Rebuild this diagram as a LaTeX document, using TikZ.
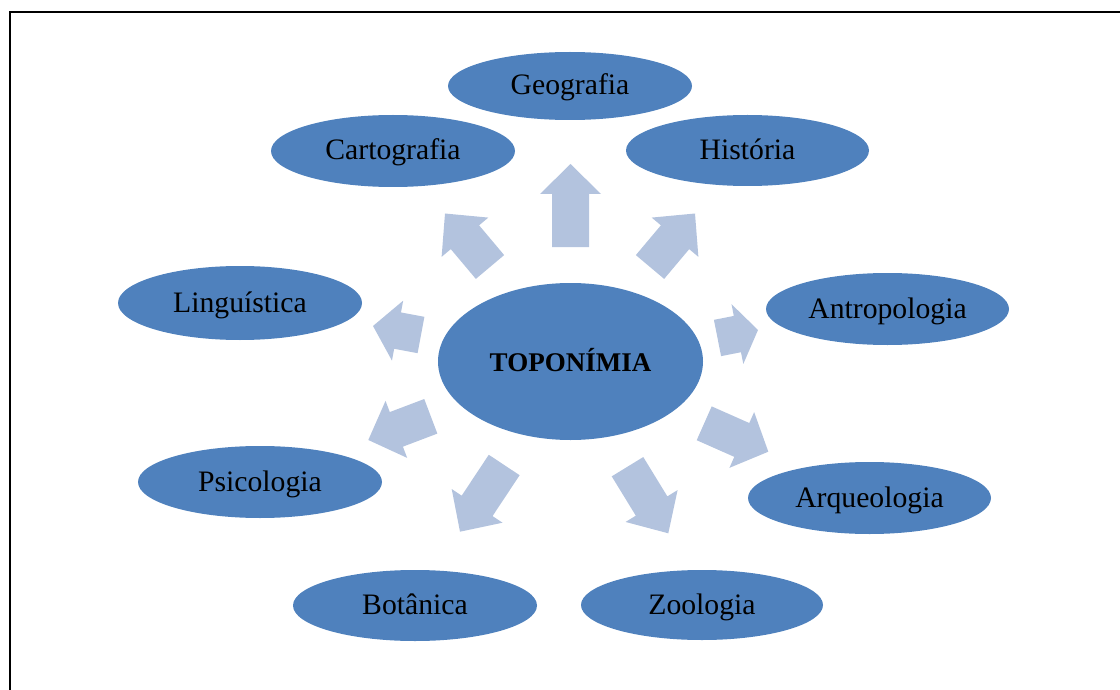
\documentclass[tikz,border=0pt]{standalone}
\usepackage{fontspec}
\setmainfont{Liberation Serif}
\usetikzlibrary{shapes.geometric,calc}
\definecolor{ellblue}{HTML}{4F81BD}
\definecolor{arrblue}{HTML}{B3C3DE}
\tikzset{
  field/.style={ellipse, fill=ellblue, draw=none, inner sep=0pt, outer sep=0pt,
    minimum width=244pt, minimum height=72pt, text height=21pt, text depth=3pt,
    font=\fontsize{29.7}{34}\selectfont, text=black},
  centre/.style={ellipse, fill=ellblue, draw=none, inner sep=0pt, outer sep=0pt,
    minimum width=265pt, minimum height=157pt, text height=19pt, text depth=0pt,
    font=\fontsize{27}{32}\selectfont\bfseries, text=black},
  blockarrow/.style={fill=arrblue, draw=none},
  frameline/.style={draw=black}
}
% #1 start coordinate, #2 tip coordinate, #3 head length
\newcommand\blockarr[3]{%
  \coordinate (hb) at ($(#2)!#3!(#1)$);
  \fill[blockarrow]
    ($(#1)!18.5pt!90:(#2)$) -- ($(hb)!18.5pt!90:(#2)$) -- ($(hb)!30.5pt!90:(#2)$)
    -- (#2)
    -- ($(hb)!30.5pt!-90:(#2)$) -- ($(hb)!18.5pt!-90:(#2)$) -- ($(#1)!18.5pt!-90:(#2)$)
    -- cycle;
}
\begin{document}
\begin{tikzpicture}[x=1pt,y=-1pt]
\useasboundingbox (0,0) rectangle (1120,690);
% frame
\coordinate (fl0) at (9.8,11.3);
\coordinate (fl1) at (9.8,690);
\coordinate (ft0) at (9,12);
\coordinate (ft1) at (1120,12);
\draw[frameline, line width=2.4pt] (fl0) -- (fl1);
\draw[frameline, line width=1.5pt] (ft0) -- (ft1);
% nodes
\node[field, minimum width=244pt, minimum height=68pt] (geo) at (570,86) {Geografia};
\node[field] (car) at (393,151) {Cartografia};
\node[field, minimum width=243pt, minimum height=71pt] (his) at (747.5,150.5) {História};
\node[field, minimum height=74pt] (lin) at (240,303) {Linguística};
\node[field, minimum width=243pt] (ant) at (887.5,309) {Antropologia};
\node[centre] (top) at (570.5,361.5) {TOPONÍMIA};
\node[field] (psi) at (260,482) {Psicologia};
\node[field, minimum width=243pt] (arq) at (869.5,498) {Arqueologia};
\node[field, minimum height=71pt] (bot) at (415,605.5) {Botânica};
\node[field, minimum width=242pt, minimum height=70pt] (zoo) at (702,605) {Zoologia};
% arrow coordinates
\coordinate (sgeo) at (570.5,247);   \coordinate (tgeo) at (570.5,164);
\coordinate (scar) at (490,267);     \coordinate (tcar) at (445,213.5);
\coordinate (shis) at (650,267);     \coordinate (this) at (695,213.5);
\coordinate (slin) at (421,335);     \coordinate (tlin) at (373,326);
\coordinate (sant) at (717.5,338);   \coordinate (tant) at (758,330);
\coordinate (spsi) at (430.8,416.3); \coordinate (tpsi) at (368.3,440);
\coordinate (sarq) at (704.2,423.3); \coordinate (tarq) at (768.3,451.7);
\coordinate (sbot) at (504.2,465);   \coordinate (tbot) at (460,531.7);
\coordinate (szoo) at (627.5,466.7); \coordinate (tzoo) at (668.3,533.3);
% arrows
\blockarr{sgeo}{tgeo}{30pt}
\blockarr{scar}{tcar}{31pt}
\blockarr{shis}{this}{31pt}
\blockarr{slin}{tlin}{25pt}
\blockarr{sant}{tant}{21pt}
\blockarr{spsi}{tpsi}{30pt}
\blockarr{sarq}{tarq}{29pt}
\blockarr{sbot}{tbot}{31pt}
\blockarr{szoo}{tzoo}{32pt}
\end{tikzpicture}
\end{document}
